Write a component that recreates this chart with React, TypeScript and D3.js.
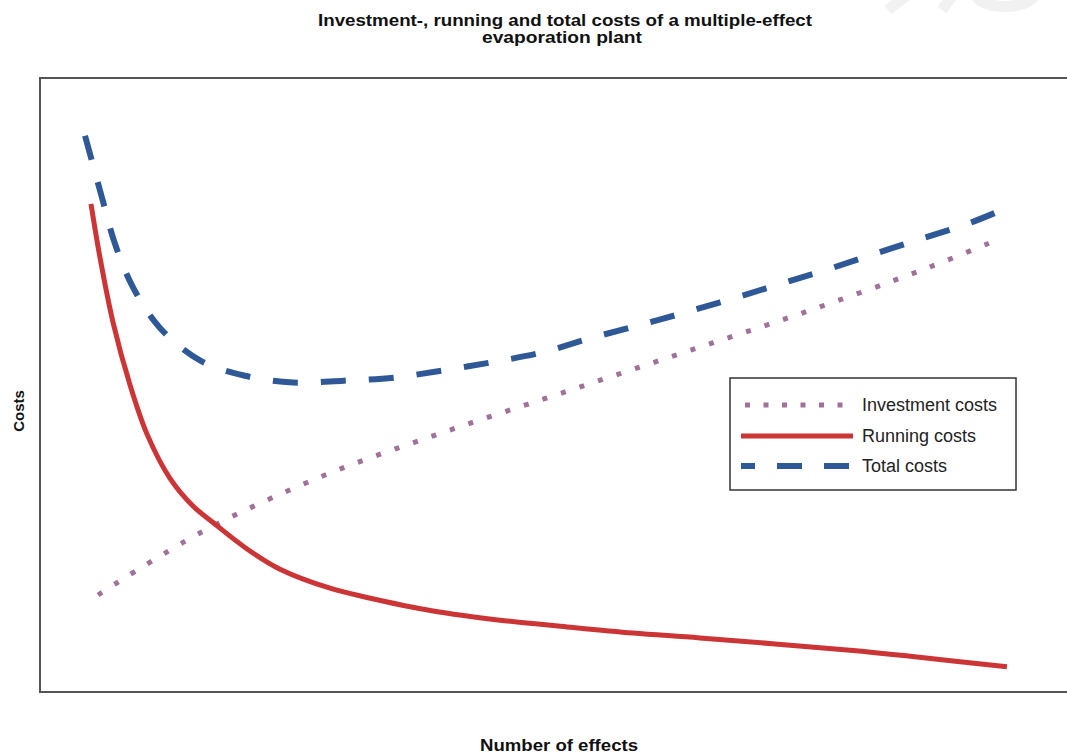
import * as d3 from 'd3';

// values (x: effects, y: relative cost, arbitrary units 0..10)
const runningX = [0.495, 0.583, 0.709, 0.874, 1.039, 1.262, 1.485, 1.68, 2.01, 2.33, 2.816, 3.175, 3.816, 4.466, 5.117, 5.757, 6.408, 7.864, 8.515, 9.388];
const runningY = [7.95, 7.07, 6.02, 5.0, 4.2, 3.48, 3.03, 2.76, 2.33, 2.0, 1.69, 1.54, 1.32, 1.17, 1.06, 0.96, 0.88, 0.68, 0.57, 0.41];

const totalX = [0.437, 0.602, 0.728, 0.903, 1.165, 1.553, 1.99, 2.456, 2.951, 3.437, 3.922, 4.388, 4.874, 5.34, 5.806, 6.262, 6.728, 7.194, 7.66, 8.126, 8.592, 9.029, 9.437];
const totalY = [9.06, 8.05, 7.3, 6.59, 5.93, 5.4, 5.15, 5.04, 5.07, 5.12, 5.24, 5.37, 5.53, 5.76, 5.97, 6.18, 6.41, 6.65, 6.89, 7.15, 7.4, 7.64, 7.92];

const investX = [0.563, 1.553, 2.718, 3.883, 5.049, 6.214, 7.379, 8.544, 9.272];
const investY = [1.58, 2.59, 3.5, 4.21, 4.86, 5.51, 6.16, 6.86, 7.35];

const titleLines = ['Investment-, running and total costs of a multiple-effect', 'evaporation plant'];
const legendLabels = ['Investment costs', 'Running costs', 'Total costs'];

const WIDTH = 1067;
const HEIGHT = 753;
const plot = { left: 40, right: 1070, top: 78, bottom: 692 };

const colors = { invest: '#a0729a', running: '#cc3535', total: '#2f5896' };

type Pt = [number, number];
const zip = (xs: number[], ys: number[]): Pt[] => xs.map((x, i) => [x, ys[i]]);

export default function App() {
  const x = d3.scaleLinear().domain([0, 10]).range([plot.left, plot.right]);
  const y = d3.scaleLinear().domain([0, 10]).range([plot.bottom, plot.top]);

  const line = d3.line<Pt>()
    .x(d => x(d[0]))
    .y(d => y(d[1]))
    .curve(d3.curveCatmullRom.alpha(0.5));

  const series = [
    { key: 'invest', pts: zip(investX, investY), color: colors.invest, width: 5, dash: '5,14.5' },
    { key: 'running', pts: zip(runningX, runningY), color: colors.running, width: 5, dash: undefined },
    { key: 'total', pts: zip(totalX, totalY), color: colors.total, width: 6, dash: '25,23' },
  ];

  // legend box
  const lg = { x: 730, y: 378, w: 286, h: 112 };
  const rowY = [405, 436, 466];

  return (
    <svg width={WIDTH} height={HEIGHT} style={{ position: 'absolute', left: 0, top: 0, background: '#fff' }}
      fontFamily="'Liberation Sans', Arial, sans-serif">
      <rect width={WIDTH} height={HEIGHT} fill="#fff" />

      {/* faint watermark remains at top right */}
      <g fill="none" stroke="#f1f1f1" strokeWidth={11}>
        <path d="M 1034 -4 A 30 14 0 0 1 976 -4" />
        <line x1={906} y1={-4} x2={888} y2={10} />
        <line x1={952} y1={-4} x2={942} y2={10} />
      </g>

      {/* title */}
      <g fontWeight="bold" fontSize={16} fill="#111" textAnchor="middle">
        <text x={565} y={26} textLength={494} lengthAdjust="spacingAndGlyphs">{titleLines[0]}</text>
        <text x={562} y={43} textLength={160} lengthAdjust="spacingAndGlyphs">{titleLines[1]}</text>
      </g>

      {/* frame */}
      <path d={`M ${plot.right} ${plot.top} H ${plot.left} V ${plot.bottom} H ${plot.right}`}
        fill="none" stroke="#555" strokeWidth={2} />

      {series.map(s => (
        <path key={s.key} d={line(s.pts) ?? ''} fill="none" stroke={s.color}
          strokeWidth={s.width} strokeDasharray={s.dash} />
      ))}

      {/* legend */}
      <rect x={lg.x} y={lg.y} width={lg.w} height={lg.h} fill="#fff" stroke="#333" strokeWidth={1.5} />
      <line x1={745} x2={856} y1={rowY[0]} y2={rowY[0]} stroke={colors.invest} strokeWidth={5} strokeDasharray="5,13.5" />
      <line x1={741} x2={853} y1={rowY[1]} y2={rowY[1]} stroke={colors.running} strokeWidth={5} />
      <line x1={741} x2={853} y1={rowY[2]} y2={rowY[2]} stroke={colors.total} strokeWidth={6} strokeDasharray="25,22" strokeDashoffset={11} />
      <g fontSize={18} fill="#222">
        {legendLabels.map((t, i) => (
          <text key={t} x={862} y={rowY[i] + 6}>{t}</text>
        ))}
      </g>

      {/* axis titles */}
      <text x={559} y={751} textAnchor="middle" fontWeight="bold" fontSize={16} fill="#111"
        textLength={158} lengthAdjust="spacingAndGlyphs">Number of effects</text>
      <text transform="translate(24,411) rotate(-90)" textAnchor="middle" fontWeight="bold" fontSize={15} fill="#111">Costs</text>
    </svg>
  );
}
